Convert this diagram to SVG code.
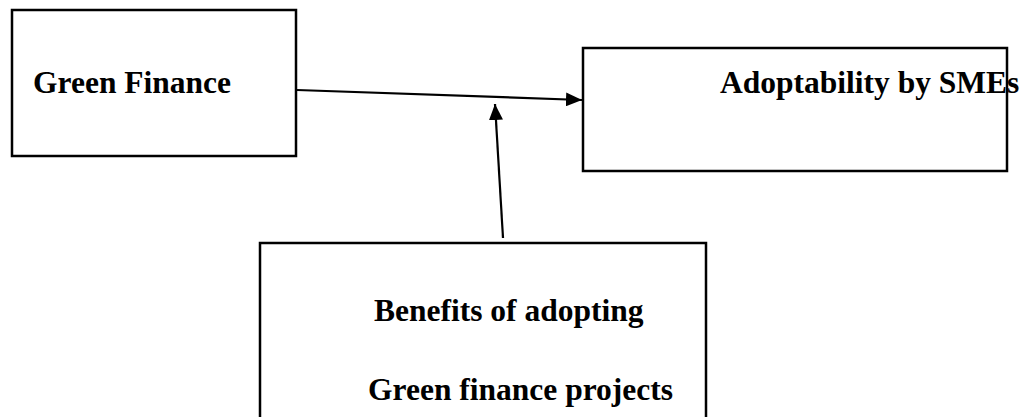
<svg xmlns="http://www.w3.org/2000/svg" width="1025" height="417" viewBox="0 0 1025 417">
  <style>
    .box { fill: #ffffff; stroke: #000000; stroke-width: 2.5; }
    .lbl { font-family: "Liberation Serif", "Times New Roman", serif; font-weight: bold; font-size: 31.5px; fill: #000000; }
    .conn { stroke: #000000; stroke-width: 2.2; fill: none; marker-end: url(#head); }
  </style>
  <defs>
    <marker id="head" viewBox="0 0 16 14" refX="16" refY="7" markerWidth="16" markerHeight="14" markerUnits="userSpaceOnUse" orient="auto">
      <path d="M0,0 L16,7 L0,14 Z" fill="#000000"/>
    </marker>
  </defs>
  <rect width="1025" height="417" fill="#ffffff"/>

  <g id="green-finance">
    <rect class="box" x="12" y="10" width="284" height="146"/>
    <text class="lbl" x="33" y="93">Green Finance</text>
  </g>

  <g id="adoptability">
    <rect class="box" x="583" y="48" width="424" height="123"/>
    <text class="lbl" x="720" y="93">Adoptability by SMEs</text>
  </g>

  <g id="benefits">
    <rect class="box" x="260" y="243" width="446" height="190"/>
    <text class="lbl" x="374" y="321">Benefits of adopting</text>
    <text class="lbl" x="368" y="400">Green finance projects</text>
  </g>

  <g id="connectors">
    <line class="conn" x1="297" y1="90" x2="582" y2="100"/>
    <line class="conn" x1="503" y1="238" x2="495" y2="104"/>
  </g>
</svg>
